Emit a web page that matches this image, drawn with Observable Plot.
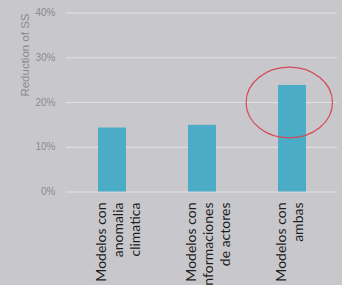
<!DOCTYPE html>
<html>
<head>
<meta charset="utf-8">
<script src="https://cdn.jsdelivr.net/npm/d3@7"></script>
<script src="https://cdn.jsdelivr.net/npm/@observablehq/plot@0.6"></script>
<style>
  html, body { margin: 0; padding: 0; background: #c8c8cc; }
  #chart svg { display: block; background: #c8c8cc; }
</style>
</head>
<body>
<div id="chart"></div>
<script>
const categories = [
  "Modelos con\nanomalia\nclimatica",
  "Modelos con\ninformaciones\nde actores",
  "Modelos con\nambas"
];
const values = [0.143, 0.149, 0.238];
const yTicks = [0, 0.1, 0.2, 0.3, 0.4];
const yLabel = "Reduction of SS";
// annotation ellipse around the third bar: [category index, center value, x offset (steps), x radius (steps), y radius (value)]
const highlight = [2, 0.199, -0.03, 0.48, 0.079];

const data = categories.map((c, i) => ({cat: c, value: values[i]}));

function ellipseMark(index, scales, values_, dimensions) {
  const xs = scales.x, ys = scales.y;
  const [ci, cv, off, rxs, ryv] = highlight;
  const bw = xs.bandwidth ? xs.bandwidth() : 0;
  const step = xs.step ? xs.step() : 90;
  const cx = xs(categories[ci]) + bw / 2 + off * step;
  const cy = ys(cv);
  const rx = rxs * step;
  const ry = Math.abs(ys(cv) - ys(cv + ryv));
  const e = document.createElementNS("http://www.w3.org/2000/svg", "ellipse");
  e.setAttribute("cx", cx);
  e.setAttribute("cy", cy);
  e.setAttribute("rx", rx);
  e.setAttribute("ry", ry);
  e.setAttribute("fill", "none");
  e.setAttribute("stroke", "#d64a5a");
  e.setAttribute("stroke-width", 1.2);
  return e;
}

const chart = Plot.plot({
  width: 342,
  height: 285,
  marginLeft: 66,
  marginRight: 5,
  marginTop: 12.5,
  marginBottom: 93.5,
  style: {background: "#c8c8cc", fontFamily: "Liberation Sans, Arial, sans-serif"},
  x: {domain: categories, paddingInner: 0.69, paddingOuter: 0.345, axis: null},
  y: {domain: [0, 0.4], ticks: yTicks, axis: null},
  marks: [
    Plot.gridY(yTicks, {stroke: "#e2e2e6", strokeOpacity: 1, strokeWidth: 1}),
    Plot.axisY(yTicks, {
      tickSize: 0, tickPadding: 11, label: null,
      tickFormat: d => Math.round(d * 100) + "%",
      fontSize: 10, fill: "#8a8a90"
    }),
    Plot.barY(data, {x: "cat", y: "value", fill: "#4aacc6"}),
    Plot.text(data, {
      x: "cat", text: "cat", frameAnchor: "bottom",
      rotate: -90, textAnchor: "end", lineAnchor: "top",
      dx: -18, dy: 10.5, lineHeight: 1.2,
      fontSize: 14, fontFamily: "Lato, Open Sans, sans-serif", fill: "#1e1e1e"
    }),
    Plot.text([yLabel], {
      frameAnchor: "top-left", text: d => d,
      rotate: -90, textAnchor: "end", lineAnchor: "middle",
      dx: -41, dy: 0.5, fontSize: 11.5, fill: "#8a8a90"
    }),
    ellipseMark
  ]
});
document.getElementById("chart").append(chart);
</script>
</body>
</html>
